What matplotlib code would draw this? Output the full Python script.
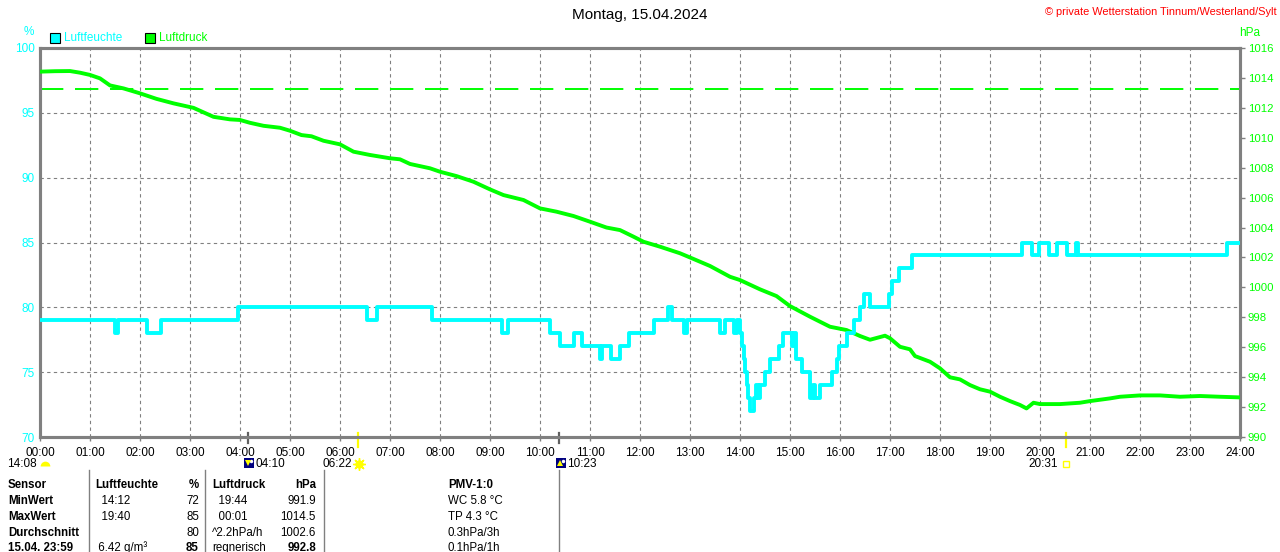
import matplotlib
matplotlib.use("Agg")
import matplotlib.pyplot as plt
from matplotlib.lines import Line2D
from matplotlib.patches import Rectangle

plt.rcParams['font.family'] = ['Liberation Sans', 'DejaVu Sans']

# Luftfeuchte (Stufenwerte): Stunde, %
hum_t = [0.00, 1.50, 1.56, 2.13, 2.42, 3.96, 6.54, 6.74, 7.84, 9.24, 9.36, 10.20, 10.40, 10.67,
         10.83, 11.20, 11.24, 11.42, 11.60, 11.78, 12.27, 12.55, 12.63, 12.87, 12.93, 13.60, 13.70,
         13.87, 13.93, 14.00, 14.04, 14.07, 14.10, 14.13, 14.16, 14.20, 14.27, 14.32, 14.36, 14.40,
         14.50, 14.60, 14.78, 14.85, 15.03, 15.08, 15.12, 15.23, 15.40, 15.45, 15.50, 15.60, 15.83,
         15.93, 15.97, 16.13, 16.27, 16.40, 16.47, 16.60, 16.97, 17.03, 17.17, 17.43, 19.65, 19.83,
         19.98, 20.17, 20.33, 20.53, 20.72, 20.75, 23.73, 24.00]
hum_v = [79, 78, 79, 78, 79, 80, 79, 80, 79, 78, 79, 78, 77, 78,
         77, 76, 77, 76, 77, 78, 79, 80, 79, 78, 79, 78, 79,
         78, 79, 78, 77, 76, 75, 74, 73, 72, 73, 74, 73, 74,
         75, 76, 77, 78, 77, 78, 76, 75, 73, 74, 73, 74, 75,
         76, 77, 78, 79, 80, 81, 80, 81, 82, 83, 84, 85, 84,
         85, 84, 85, 84, 85, 84, 85, 85]

# Luftdruck: Stunde, hPa
p_t = [0.0, 0.3, 0.6, 0.8, 1.0, 1.2, 1.4, 1.67, 2.0, 2.33, 2.67, 3.07, 3.47, 3.8, 4.0, 4.2, 4.47,
       4.8, 5.0, 5.23, 5.43, 5.67, 6.0, 6.27, 6.6, 7.0, 7.2, 7.4, 7.8, 8.0, 8.33, 8.67, 9.0, 9.27,
       9.67, 10.0, 10.33, 10.67, 11.0, 11.33, 11.6, 11.87, 12.07, 12.4, 12.8, 13.0, 13.4, 13.8,
       14.0, 14.4, 14.73, 15.0, 15.4, 15.8, 16.13, 16.4, 16.6, 16.9, 17.0, 17.2, 17.4, 17.5, 17.8,
       18.0, 18.2, 18.4, 18.6, 18.8, 19.0, 19.2, 19.4, 19.6, 19.73, 19.87, 20.0, 20.4, 20.8, 21.0,
       21.4, 21.6, 22.0, 22.4, 22.8, 23.2, 23.6, 23.97]
p_v = [1014.42, 1014.45, 1014.46, 1014.35, 1014.2, 1013.97, 1013.5, 1013.3, 1012.97, 1012.6,
       1012.3, 1012.0, 1011.4, 1011.23, 1011.19, 1011.0, 1010.8, 1010.67, 1010.47, 1010.18,
       1010.1, 1009.8, 1009.56, 1009.07, 1008.85, 1008.63, 1008.56, 1008.25, 1007.96, 1007.73,
       1007.44, 1007.06, 1006.55, 1006.17, 1005.84, 1005.28, 1005.06, 1004.77, 1004.39, 1004.0,
       1003.83, 1003.39, 1003.05, 1002.72, 1002.28, 1002.0, 1001.43, 1000.71, 1000.49, 999.87,
       999.42, 998.75, 998.04, 997.37, 997.15, 996.75, 996.5, 996.77, 996.6, 996.03, 995.86,
       995.41, 995.03, 994.59, 993.99, 993.85, 993.47, 993.19, 993.03, 992.69, 992.4, 992.14,
       991.91, 992.29, 992.2, 992.2, 992.29, 992.4, 992.58, 992.69, 992.78, 992.78, 992.69,
       992.74, 992.69, 992.65]
p_ref = 1013.25

hour_labels = ['%02d:00' % h for h in range(25)]
hum_ticks = [70, 75, 80, 85, 90, 95, 100]
p_ticks = list(range(990, 1017, 2))

sun_times = [6 + 22 / 60, 20 + 31 / 60]
moon_times = [4 + 10 / 60, 10 + 23 / 60]

table_rows = [
    ('Sensor', 'Luftfeuchte', '%', 'Luftdruck', 'hPa', 'PMV-1:0'),
    ('MinWert', '  14:12', '72', '  19:44', '991.9', 'WC 5.8 °C'),
    ('MaxWert', '  19:40', '85', '  00:01', '1014.5', 'TP 4.3 °C'),
    ('Durchschnitt', '', '80', '^2.2hPa/h', '1002.6', '0.3hPa/3h'),
    ('15.04. 23:59', ' 6.42 g/m³', '85', 'regnerisch', '992.8', '0.1hPa/1h'),
]

W, H = 1280, 552
CYAN = '#00FFFF'
GREEN = '#00FF00'
GRAY = '#808080'


def fx(px):
    return px / W


def fy(py):
    return 1 - py / H


fig = plt.figure(figsize=(12.8, 5.52), dpi=100)
ax = fig.add_axes([fx(40), fy(437), 1200 / W, 389 / H])
ax2 = ax.twinx()

ax.set_xlim(0, 24)
ax.set_ylim(70, 100)
ax2.set_ylim(990, 1016)

ax.set_xticks(range(25))
ax.set_xticklabels(hour_labels, fontsize=8.5)
ax.set_yticks(hum_ticks)
ax.set_yticklabels([str(v) for v in hum_ticks], fontsize=8.5, color=CYAN)
ax2.set_yticks(p_ticks)
ax2.set_yticklabels([str(v) for v in p_ticks], fontsize=8.2, color=GREEN)

ax.tick_params(axis='x', length=3, width=1, color=GRAY, pad=4.5)
ax.tick_params(axis='y', length=0, pad=4)
ax2.tick_params(axis='y', length=3.5, width=1, color=GRAY, pad=2)

for h in range(1, 24):
    ax.axvline(h, color=GRAY, lw=0.8, ls=(0, (3, 3)), zorder=1)
for v in hum_ticks[1:-1]:
    ax.axhline(v, color=GRAY, lw=0.8, ls=(0, (3, 3)), zorder=1)

for a in (ax, ax2):
    for s in a.spines.values():
        s.set_color(GRAY)
        s.set_linewidth(2.2)

ax2.axhline(p_ref, color=GREEN, lw=1.4, ls=(0, (12, 6)), zorder=2)
ax2.plot(p_t, p_v, color=GREEN, lw=2.8, zorder=3)
ax2.plot(hum_t, [990 + (v - 70) * 26 / 30 for v in hum_v], color=CYAN, lw=2.8,
         drawstyle='steps-post', zorder=4)

# Sonnen- und Mondmarken an der Zeitachse
xtr = ax.get_xaxis_transform()
for t in sun_times:
    ax.plot([t, t], [0.0103, -0.0257], transform=xtr, color='#FFFF00', lw=1.6, clip_on=False)
for t in moon_times:
    ax.plot([t, t], [0.0103, -0.015], transform=xtr, color='#606060', lw=1.6, clip_on=False)

# Titel und Kopfzeile
fig.text(0.5, fy(15), 'Montag, 15.04.2024', ha='center', va='center', fontsize=11)
fig.text(fx(1277), fy(12), '© private Wetterstation Tinnum/Westerland/Sylt', ha='right',
         va='center', fontsize=7.9, color='#FF0000')
fig.text(fx(29), fy(32), '%', ha='center', va='center', fontsize=8.5, color=CYAN)
fig.text(fx(1250), fy(33), 'hPa', ha='center', va='center', fontsize=8.5, color=GREEN)
fig.patches.append(Rectangle((fx(50), fy(43)), 10 / W, 10 / H, transform=fig.transFigure,
                             facecolor=CYAN, edgecolor='black', lw=0.8))
fig.text(fx(64), fy(38), 'Luftfeuchte', va='center', fontsize=8.5, color=CYAN)
fig.patches.append(Rectangle((fx(145), fy(43)), 10 / W, 10 / H, transform=fig.transFigure,
                             facecolor=GREEN, edgecolor='black', lw=0.8))
fig.text(fx(159), fy(38), 'Luftdruck', va='center', fontsize=8.5, color=GREEN)

# Zeiten unter der Achse
ty = fy(464)
fig.text(fx(37), ty, '14:08', ha='right', va='center', fontsize=8.5)
fig.add_artist(Line2D([fx(45)], [fy(466)], marker='o', ms=7, fillstyle='top',
                      mfc='#FFFF00', mfcalt='none', mec='none'))
fig.text(fx(352), ty, '06:22', ha='right', va='center', fontsize=8.5)
fig.add_artist(Line2D([fx(359)], [ty], marker=(8, 2, 0), ms=9, color='#FFFF00', mew=1))
fig.add_artist(Line2D([fx(359)], [ty], marker='o', ms=5, color='#FFFF00'))
fig.text(fx(1058), ty, '20:31', ha='right', va='center', fontsize=8.5)
fig.add_artist(Line2D([fx(1066)], [ty], marker='s', ms=4, mfc='none', mec='#FFFF00', mew=1))
for px, lab, mk in ((244, '04:10', 'v'), (556, '10:23', '^')):
    fig.patches.append(Rectangle((fx(px), fy(468)), 10 / W, 10 / H, transform=fig.transFigure,
                                 facecolor='#000080', edgecolor='none'))
    fig.add_artist(Line2D([fx(px + 7)], [fy(461)], marker='o', ms=2.5, color='white', mew=0))
    fig.add_artist(Line2D([fx(px + 3.5)], [fy(463)], marker=mk, ms=4, color='#FFFF00', mew=0))
    fig.text(fx(px + 11), ty, lab, ha='left', va='center', fontsize=8.5)

# Tabelle
for px in (89, 205, 324, 559):
    fig.add_artist(Line2D([fx(px), fx(px)], [fy(470), fy(552)], color=GRAY, lw=1))
row_y = [485, 500.7, 516.7, 532.7, 548]
for i, row in enumerate(table_rows):
    y = fy(row_y[i])
    head = i == 0
    last = i == len(table_rows) - 1
    fig.text(fx(8), y, row[0], va='center', fontsize=8.3, fontweight='bold')
    fig.text(fx(95), y, row[1], va='center', fontsize=8.3,
             fontweight='bold' if head else 'normal')
    fig.text(fx(199), y, row[2], ha='right', va='center', fontsize=8.3,
             fontweight='bold' if head or last else 'normal')
    fig.text(fx(212), y, row[3], va='center', fontsize=8.3,
             fontweight='bold' if head else 'normal')
    fig.text(fx(316), y, row[4], ha='right', va='center', fontsize=8.3,
             fontweight='bold' if head or last else 'normal')
    fig.text(fx(448), y, row[5], va='center', fontsize=8.3,
             fontweight='bold' if head else 'normal')

fig.savefig('out.png', dpi=100)
